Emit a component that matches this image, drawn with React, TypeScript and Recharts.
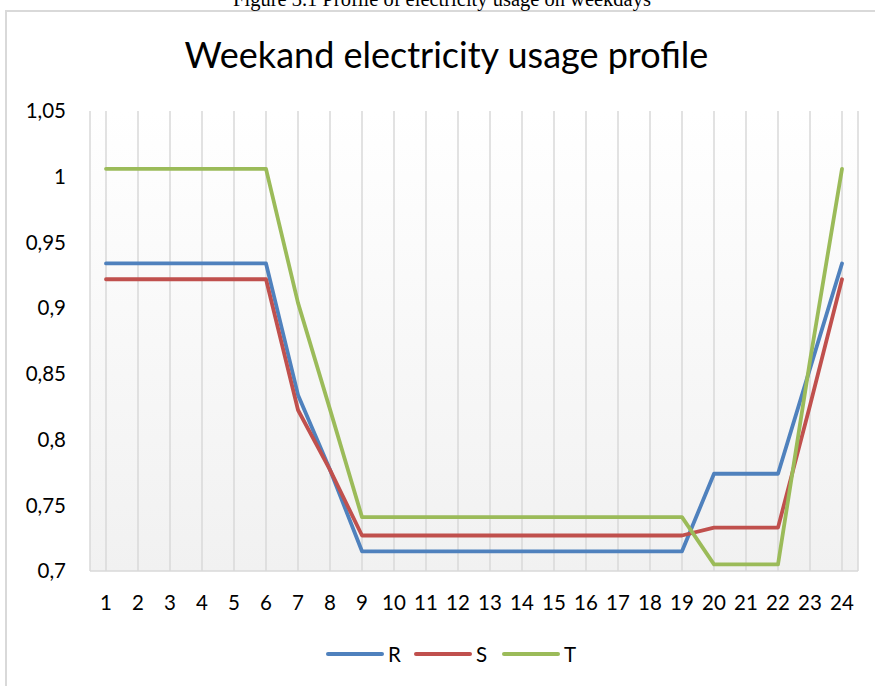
import { CartesianGrid, Line, LineChart, XAxis, YAxis } from 'recharts';

const hours = ['1', '2', '3', '4', '5', '6', '7', '8', '9', '10', '11', '12',
  '13', '14', '15', '16', '17', '18', '19', '20', '21', '22', '23', '24'];

const rValues = [0.934, 0.934, 0.934, 0.934, 0.934, 0.934, 0.834, 0.777, 0.715, 0.715, 0.715, 0.715,
  0.715, 0.715, 0.715, 0.715, 0.715, 0.715, 0.715, 0.774, 0.774, 0.774, 0.854, 0.934];
const sValues = [0.922, 0.922, 0.922, 0.922, 0.922, 0.922, 0.8225, 0.777, 0.727, 0.727, 0.727, 0.727,
  0.727, 0.727, 0.727, 0.727, 0.727, 0.727, 0.727, 0.733, 0.733, 0.733, 0.826, 0.922];
const tValues = [1.006, 1.006, 1.006, 1.006, 1.006, 1.006, 0.904, 0.823, 0.741, 0.741, 0.741, 0.741,
  0.741, 0.741, 0.741, 0.741, 0.741, 0.741, 0.741, 0.705, 0.705, 0.705, 0.86, 1.006];

const yTicks = [0.7, 0.75, 0.8, 0.85, 0.9, 0.95, 1, 1.05];

const SERIES = [
  { key: 'R', color: '#4f81bd' },
  { key: 'S', color: '#c0504d' },
  { key: 'T', color: '#9bbb59' },
];

const data = hours.map((h, i) => ({ hour: h, R: rValues[i], S: sValues[i], T: tValues[i] }));

const FONT = 'Lato, "Noto Sans", sans-serif';

export default function App() {
  return (
    <div style={{ position: 'absolute', left: 0, top: 0, width: 875, height: 686, overflow: 'hidden', background: '#fff' }}>
      <div
        style={{
          position: 'absolute', left: 5, top: 10, width: 900, height: 700,
          borderTop: '2px solid #d9d9d9', borderLeft: '2px solid #d9d9d9',
        }}
      />
      <LineChart
        width={875}
        height={686}
        data={data}
        margin={{ top: 111, right: 17, bottom: 55, left: 0 }}
        style={{ position: 'absolute', left: 0, top: 0 }}
      >
        <defs>
          <linearGradient id="plotBg" x1="0" y1="0" x2="0" y2="1">
            <stop offset="0" stopColor="#ffffff" />
            <stop offset="1" stopColor="#f1f1f1" />
          </linearGradient>
        </defs>
        <CartesianGrid horizontal={false} stroke="#d9d9d9" strokeWidth={1.5} fill="url(#plotBg)" />
        <XAxis
          dataKey="hour"
          padding={{ left: 16, right: 16 }}
          axisLine={{ stroke: '#d9d9d9', strokeWidth: 1.5 }}
          tickLine={false}
          tickMargin={18}
          height={60}
          interval={0}
          tick={{ fill: '#000', fontSize: 20.5, fontFamily: FONT }}
        />
        <YAxis
          domain={[0.7, 1.05]}
          ticks={yTicks}
          width={90}
          axisLine={false}
          tickLine={false}
          tickMargin={18}
          tickFormatter={(v: number) => String(v).replace('.', ',')}
          tick={{ fill: '#000', fontSize: 20.5, fontFamily: FONT }}
        />
        {SERIES.map((s) => (
          <Line
            key={s.key}
            dataKey={s.key}
            stroke={s.color}
            strokeWidth={3.8}
            strokeLinejoin="round"
            strokeLinecap="round"
            dot={false}
            activeDot={false}
            isAnimationActive={false}
          />
        ))}
      </LineChart>
      <svg width={875} height={686} style={{ position: 'absolute', left: 0, top: 0, pointerEvents: 'none' }}>
        <text x={442} y={6} textAnchor="middle" fontFamily='"Liberation Serif", serif' fontSize={20.5} fill="#000">
          Figure 3.1 Profile of electricity usage on weekdays
        </text>
        <text x={446.5} y={68} textAnchor="middle" fontFamily={FONT} fontSize={36} fill="#000">
          Weekand electricity usage profile
        </text>
        {SERIES.map((s, i) => {
          const x0 = 328 + i * 88;
          return (
            <g key={s.key}>
              <line x1={x0} y1={654} x2={x0 + 54} y2={654} stroke={s.color} strokeWidth={4} strokeLinecap="round" />
              <text x={x0 + 60} y={662} fontFamily={FONT} fontSize={20.5} fill="#000">{s.key}</text>
            </g>
          );
        })}
      </svg>
    </div>
  );
}
